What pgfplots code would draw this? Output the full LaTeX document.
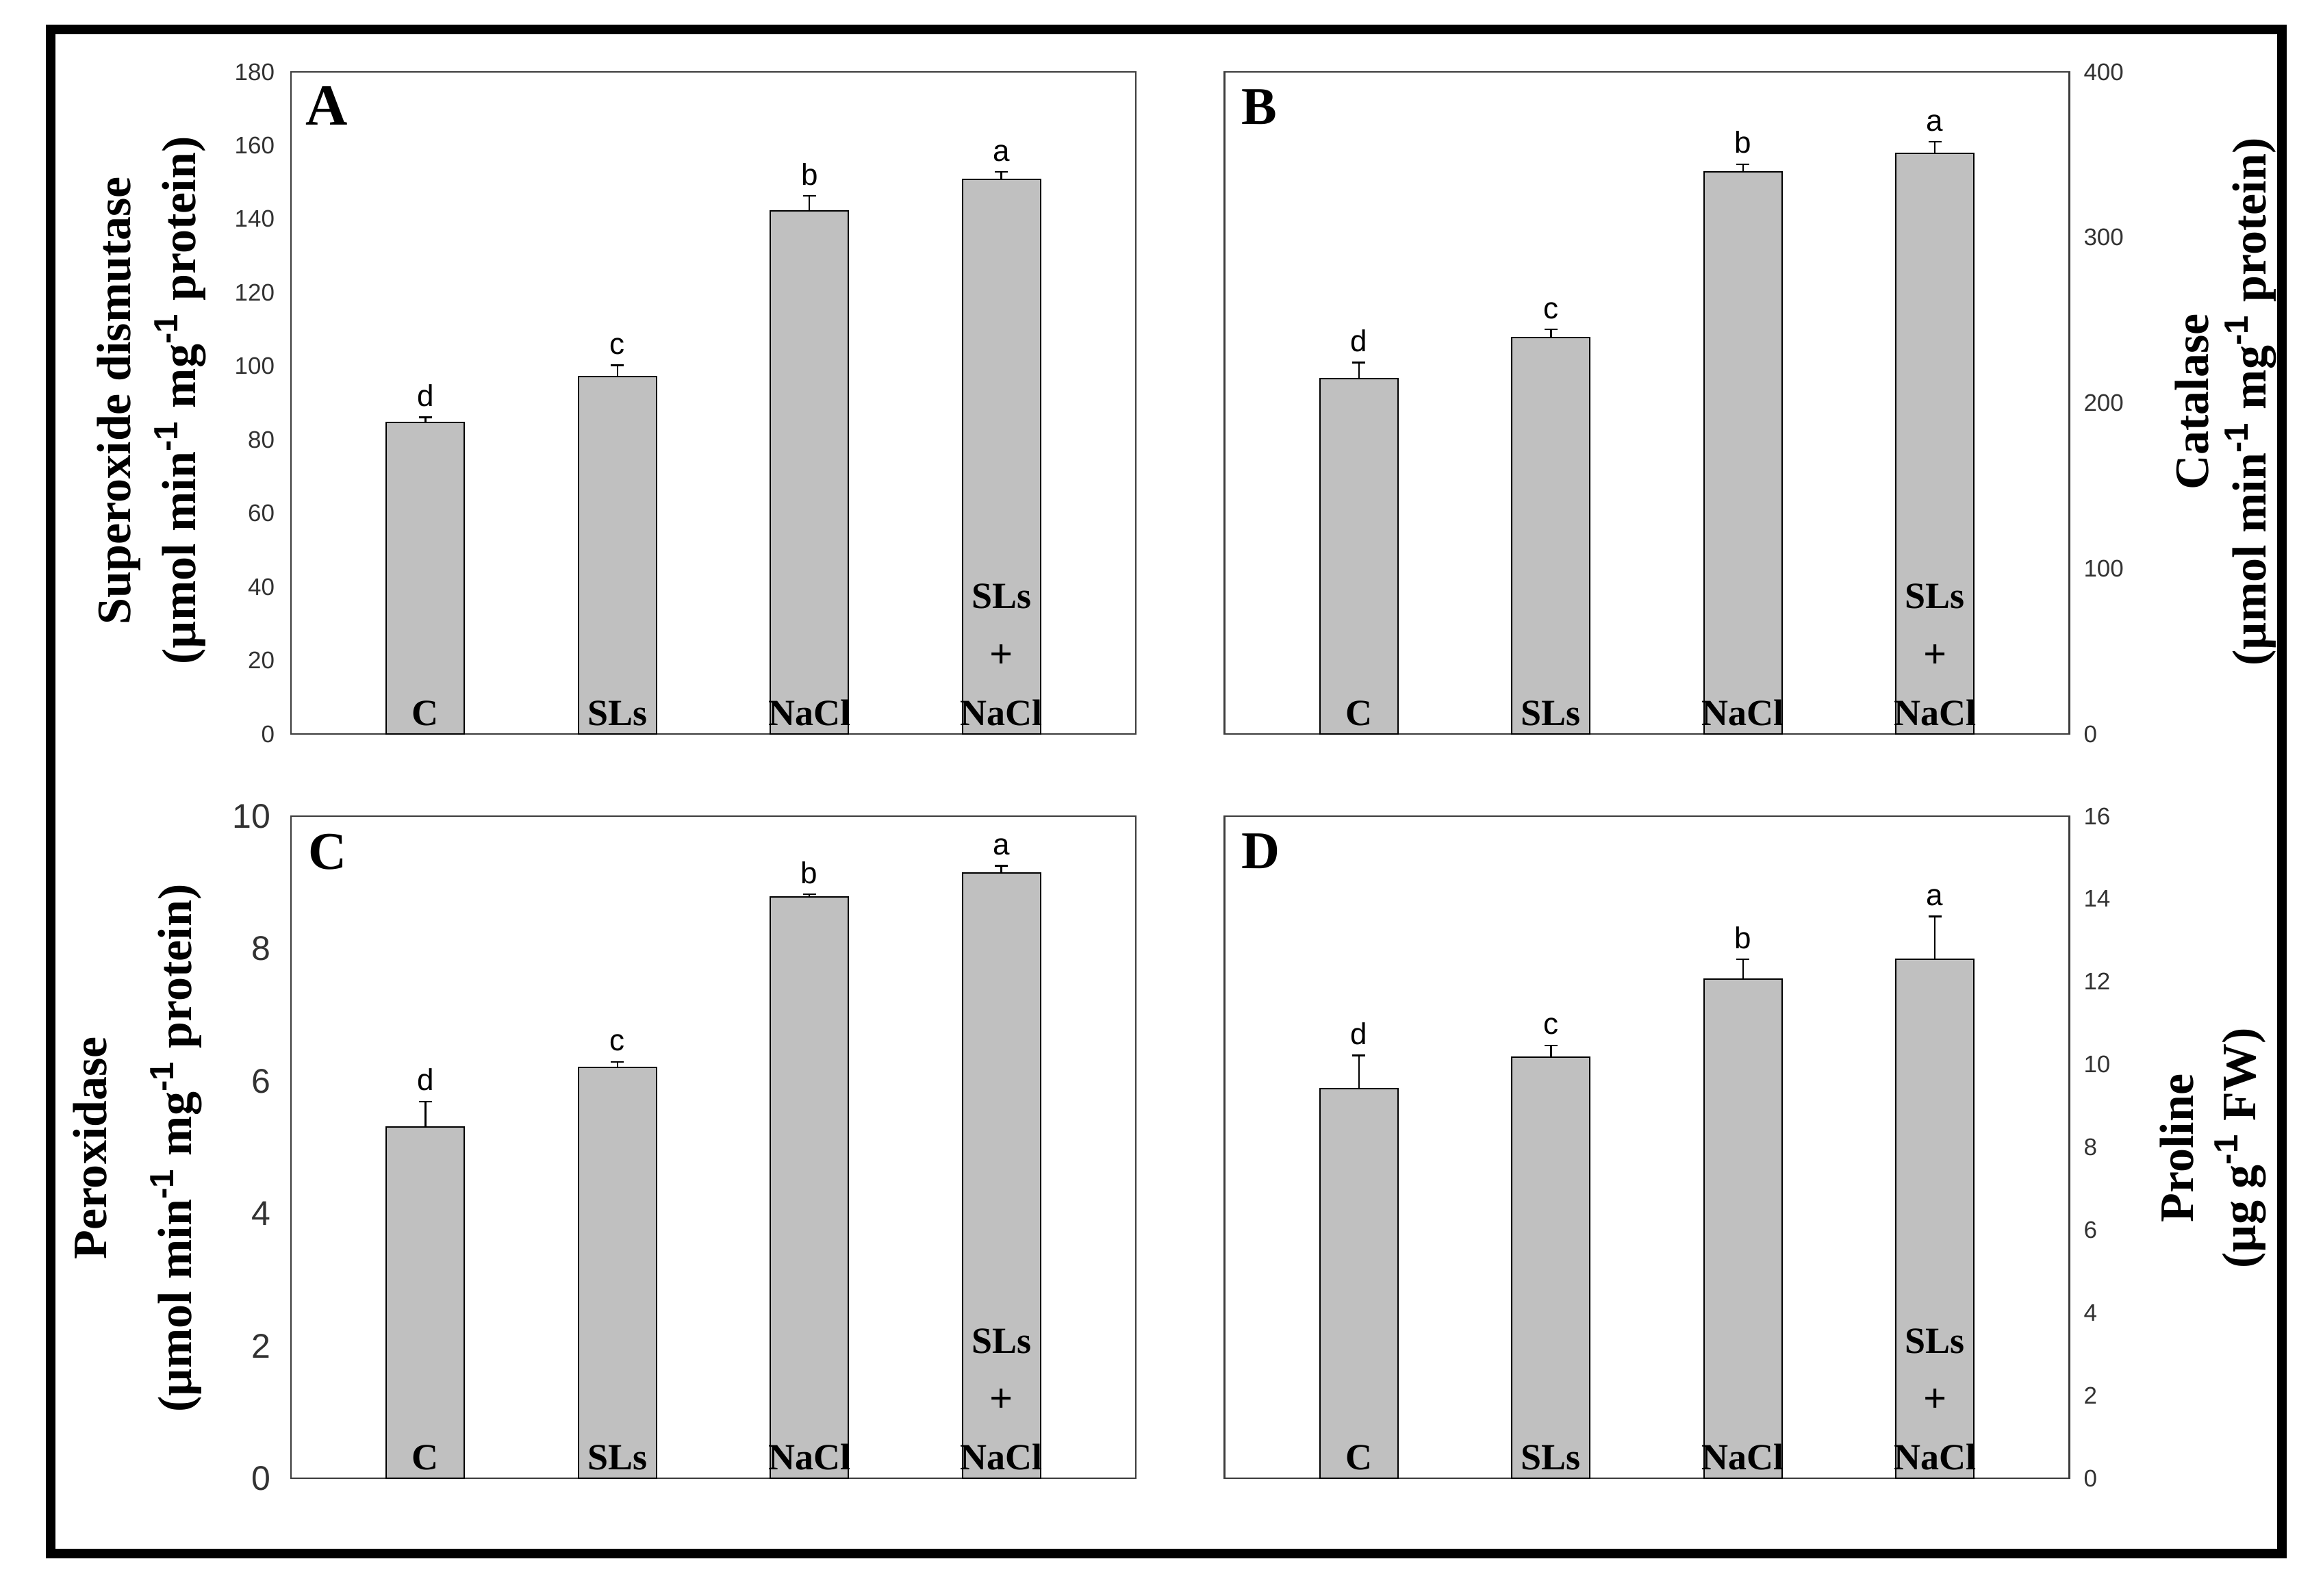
\documentclass[border=0pt]{standalone}
\usepackage{fontspec}
\setmainfont{Liberation Serif}
\newfontfamily\arial{Liberation Sans}
\usepackage{pgfplots}
\pgfplotsset{compat=1.18}
\definecolor{barfill}{RGB}{192,192,192}
\definecolor{axcol}{RGB}{60,60,60}
\definecolor{tickcol}{RGB}{50,50,50}
\pgfplotsset{
 panel/.style={
  scale only axis, width=246.8pt, height=193.4pt,
  xmin=-0.7, xmax=3.7, ymin=0,
  xtick=\empty,
  ybar, bar width=22.8pt,
  axis line style={axcol, line width=0.5pt},
  major tick length=0pt,
  yticklabel style={font=\arial\fontsize{7}{8}\selectfont, text=tickcol, inner sep=0pt},
  /pgf/number format/assume math mode=true,
  clip=false,
 },
 bars/.style={fill=barfill, draw=black, line width=0.4pt,
   /pgfplots/error bars/y dir=plus, /pgfplots/error bars/y explicit,
   /pgfplots/error bars/error bar style={black, line width=0.5pt},
   /pgfplots/error bars/error mark options={rotate=90, black, mark size=1.9pt, line width=0.5pt}},
}
\tikzset{
 lett/.style={anchor=base, yshift=3.2pt, inner sep=0pt, font=\arial\fontsize{8.8}{9}\selectfont},
 cat/.style={anchor=base, inner sep=0pt, font=\bfseries\fontsize{10.8}{11}\selectfont},
 plus/.style={anchor=center, inner sep=0pt, font=\bfseries\fontsize{12}{12}\selectfont},
 plab/.style={anchor=north west, inner sep=0pt, font=\bfseries\fontsize{15.5}{16}\selectfont},
 ylab/.style={rotate=90, anchor=center, inner sep=0pt, font=\bfseries\fontsize{14}{16}\selectfont},
}
\newcommand{\sinv}{\textsuperscript{{\arial\bfseries -1}}}
\newcommand{\catlabels}{%
  \node[cat, yshift=2.5pt] at (axis cs:0,0) {C};
  \node[cat, yshift=2.5pt] at (axis cs:1,0) {SLs};
  \node[cat, yshift=2.5pt] at (axis cs:2,0) {NaCl};
  \node[cat, yshift=2.5pt] at (axis cs:3,0) {NaCl};
  \node[plus, yshift=22.6pt] at (axis cs:3,0) {+};
  \node[cat, yshift=36.6pt] at (axis cs:3,0) {SLs};
}
\begin{document}
\begin{tikzpicture}
\path[use as bounding box] (0,0) rectangle (678.6pt,466pt);
\draw[line width=2.8pt] (14.8pt,12.2pt) rectangle (666.6pt,457.3pt);

% Panel A
\begin{axis}[panel, at={(85pt,251.6pt)}, anchor=south west,
  ymax=180, ytick={0,20,...,180}, yticklabel shift=4.6pt]
\addplot[bars] coordinates {(0,84.7) +- (0,1.4) (1,97.2) +- (0,3.0) (2,142.2) +- (0,4.1) (3,150.8) +- (0,2.0)};
\node[lett] at (axis cs:0,86.1) {d};
\node[lett] at (axis cs:1,100.2) {c};
\node[lett] at (axis cs:2,146.3) {b};
\node[lett] at (axis cs:3,152.8) {a};
\catlabels
\node[plab, font=\bfseries\fontsize{17}{18}\selectfont, xshift=4pt, yshift=-4pt] at (rel axis cs:0,1) {A};
\end{axis}

% Panel B
\begin{axis}[panel, at={(357.7pt,251.6pt)}, anchor=south west,
  ymax=400, ytick={0,100,...,400}, yticklabel pos=right, yticklabel shift=4pt]
\addplot[bars] coordinates {(0,214.7) +- (0,9.7) (1,239.6) +- (0,4.8) (2,339.7) +- (0,4.5) (3,350.6) +- (0,7.2)};
\node[lett] at (axis cs:0,224.4) {d};
\node[lett] at (axis cs:1,244.4) {c};
\node[lett] at (axis cs:2,344.2) {b};
\node[lett] at (axis cs:3,357.8) {a};
\catlabels
\node[plab, xshift=4.8pt, yshift=-5pt] at (rel axis cs:0,1) {B};
\end{axis}

% Panel C
\begin{axis}[panel, at={(85pt,34.2pt)}, anchor=south west,
  ymax=10, ytick={0,2,...,10}, yticklabel shift=5.8pt,
  yticklabel style={font=\arial\fontsize{10}{11}\selectfont}]
\addplot[bars] coordinates {(0,5.30) +- (0,0.39) (1,6.21) +- (0,0.08) (2,8.78) +- (0,0.04) (3,9.14) +- (0,0.11)};
\node[lett] at (axis cs:0,5.69) {d};
\node[lett] at (axis cs:1,6.29) {c};
\node[lett] at (axis cs:2,8.82) {b};
\node[lett] at (axis cs:3,9.25) {a};
\catlabels
\node[plab, xshift=4.8pt, yshift=-5pt] at (rel axis cs:0,1) {C};
\end{axis}

% Panel D
\begin{axis}[panel, at={(357.7pt,34.2pt)}, anchor=south west,
  ymax=16, ytick={0,2,...,16}, yticklabel pos=right, yticklabel shift=4pt]
\addplot[bars] coordinates {(0,9.41) +- (0,0.81) (1,10.18) +- (0,0.28) (2,12.06) +- (0,0.48) (3,12.54) +- (0,1.04)};
\node[lett] at (axis cs:0,10.22) {d};
\node[lett] at (axis cs:1,10.46) {c};
\node[lett] at (axis cs:2,12.54) {b};
\node[lett] at (axis cs:3,13.58) {a};
\catlabels
\node[plab, xshift=4.8pt, yshift=-5pt] at (rel axis cs:0,1) {D};
\end{axis}

% Axis titles
\node[ylab] at (34.8pt,349pt) {Superoxide dismutase};
\node[ylab] at (52.6pt,349pt) {(µmol min\sinv{} mg\sinv{} protein)};
\node[ylab] at (640.2pt,348.6pt) {Catalase};
\node[ylab] at (657.4pt,348.6pt) {(µmol min\sinv{} mg\sinv{} protein)};
\node[ylab] at (26.4pt,130.6pt) {Peroxidase};
\node[ylab] at (51.4pt,130.6pt) {(µmol min\sinv{} mg\sinv{} protein)};
\node[ylab] at (635.8pt,130.6pt) {Proline};
\node[ylab] at (654.4pt,130.6pt) {(µg g\sinv{} FW)};
\end{tikzpicture}
\end{document}
